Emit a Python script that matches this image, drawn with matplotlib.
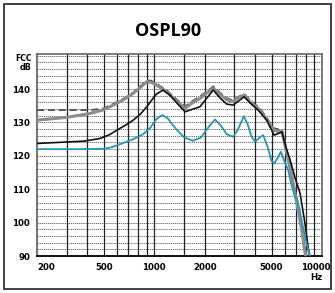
import matplotlib
matplotlib.use("Agg")
import matplotlib.pyplot as plt
import matplotlib.transforms as mtransforms
from matplotlib.patches import Rectangle

# frequency (Hz) / level (dB)
teal_f = [200, 350, 500, 560, 650, 750, 860, 950, 1030, 1116, 1200, 1350, 1500, 1700,
          1900, 2100, 2300, 2500, 2700, 2950, 3150, 3420, 3600, 3800, 3990, 4200, 4460,
          4750, 5000, 5180, 5450, 5690, 5950, 6290, 6600, 6900, 7100, 7400, 7900, 8400, 8700]
teal_db = [122.0, 122.0, 122.1, 122.6, 123.8, 125.0, 126.5, 128.5, 131.0, 132.2, 131.3,
           128.0, 125.6, 124.5, 125.5, 128.5, 130.9, 129.0, 126.5, 125.7, 127.8, 131.9,
           129.5, 125.8, 124.2, 125.3, 126.2, 122.5, 118.5, 117.7, 119.5, 121.2, 118.5,
           115.7, 111.0, 107.8, 107.3, 103.0, 96.0, 90.5, 88.0]

black_f = [200, 380, 475, 540, 600, 680, 750, 830, 903, 970, 1030, 1130, 1250, 1400, 1526,
           1700, 1874, 2050, 2250, 2450, 2700, 2950, 3200, 3430, 3700, 4160, 4680, 5180,
           5500, 5770, 6100, 6460, 6900, 7400, 7900, 8300, 8500]
black_db = [123.7, 124.4, 125.2, 126.3, 127.7, 129.3, 130.7, 132.6, 134.7, 136.8, 138.5,
            139.7, 138.0, 135.2, 133.2, 134.0, 134.7, 137.2, 139.7, 137.5, 135.5, 135.2,
            136.5, 137.7, 136.0, 133.7, 130.7, 126.2, 126.7, 127.2, 122.5, 118.7, 113.5,
            108.8, 100.0, 92.0, 89.0]

gray_f = [200, 300, 415, 500, 570, 650, 750, 830, 903, 960, 1030, 1190, 1350, 1526, 1700,
          1874, 2050, 2250, 2450, 2700, 2950, 3200, 3430, 3750, 4270, 4700, 5130, 5450,
          5770, 6170, 6600, 7000, 7500, 7900, 8050]
gray_db = [130.7, 131.5, 132.7, 133.8, 135.2, 136.7, 138.7, 140.6, 142.2, 142.0, 141.2,
           139.2, 136.5, 134.2, 136.0, 137.2, 138.8, 140.2, 138.5, 136.8, 136.2, 137.5,
           138.2, 136.0, 133.7, 130.8, 127.7, 127.3, 127.2, 120.7, 114.0, 107.0, 99.0,
           91.5, 89.0]

dash_f = [200, 415, 500, 570, 650, 750, 830, 903, 960, 1030, 1190, 1350, 1526, 1700, 1874,
          2050, 2250, 2450, 2700, 2950, 3200, 3430, 3750, 4270, 4700, 5130, 5450, 5770,
          6170, 6600, 7000, 7500, 7900, 8100]
dash_db = [133.7, 133.7, 134.2, 135.6, 137.0, 139.0, 141.0, 142.6, 142.5, 141.6, 139.6,
           137.0, 134.8, 136.5, 137.8, 139.2, 140.8, 139.0, 137.3, 136.6, 137.8, 138.6,
           136.5, 134.2, 131.3, 128.3, 128.0, 127.8, 121.5, 115.0, 108.0, 100.0, 92.5, 89.0]

x_ticks = [200, 500, 1000, 2000, 5000, 10000]
x_grid = [300, 400, 500, 600, 700, 800, 900, 1000, 1500, 2000, 3000, 4000, 5000,
          6000, 7000, 8000, 9000]
y_ticks = [90, 100, 110, 120, 130, 140]
y_grid = list(range(92, 152, 2))

fig = plt.figure(figsize=(3.35, 2.93), dpi=100)
fig.patches.append(Rectangle((4 / 335, 4 / 293), 327 / 335, 285 / 293, transform=fig.transFigure,
                             fill=False, edgecolor="#333333", linewidth=1.3))
fig.text(168 / 335, 1 - 31 / 293, "OSPL90", ha="center", va="center",
         fontsize=13, fontweight="bold", family="Open Sans")

ax = fig.add_axes([37 / 335, 1 - 256 / 293, 285 / 335, 202 / 293])
ax.set_xscale("log")
ax.set_xlim(200, 10000)
ax.set_ylim(90, 150.5)

for y in y_grid:
    ax.axhline(y, color="#555555", lw=0.6, ls=(0, (1.5, 1)), zorder=1)
for x in x_grid:
    ax.axvline(x, color="#222222", lw=0.9, zorder=1)

ax.plot(dash_f, dash_db, color="#555555", lw=1.3, ls=(0, (4, 2)), zorder=3)
ax.plot(gray_f, gray_db, color="#8c8c8c", lw=2.2, zorder=3)
ax.plot(black_f, black_db, color="#111111", lw=1.2, zorder=4)
ax.plot(teal_f, teal_db, color="#2298b2", lw=1.3, zorder=5)

ax.set_xticks(x_ticks)
ax.set_xticklabels([str(v) for v in x_ticks])
ax.xaxis.set_minor_locator(matplotlib.ticker.NullLocator())
ax.set_yticks(y_ticks)
ax.set_yticklabels([str(v) for v in y_ticks])
ax.tick_params(length=0, labelsize=6.2, pad=5)
for lab in ax.get_xticklabels() + ax.get_yticklabels():
    lab.set_fontweight("bold")
xl = ax.get_xticklabels()
xl[0].set_ha("left")
xl[-1].set_transform(xl[-1].get_transform() +
                     mtransforms.ScaledTranslation(-6 / 100, 0, fig.dpi_scale_trans))

for side in ["top", "right"]:
    ax.spines[side].set_color("#666666")
    ax.spines[side].set_linewidth(1.2)
ax.spines["left"].set_color("#777777")
ax.spines["left"].set_linewidth(1.5)
ax.spines["bottom"].set_color("#111111")
ax.spines["bottom"].set_linewidth(1.4)

fig.text(32 / 335, 1 - 58 / 293, "FCC", ha="right", va="center", fontsize=5.5, fontweight="bold")
fig.text(32 / 335, 1 - 68 / 293, "dB", ha="right", va="center", fontsize=5.8, fontweight="bold")
fig.text(322 / 335, 1 - 277 / 293, "Hz", ha="right", va="center", fontsize=6.2, fontweight="bold")

fig.savefig("out.png", dpi=100)
